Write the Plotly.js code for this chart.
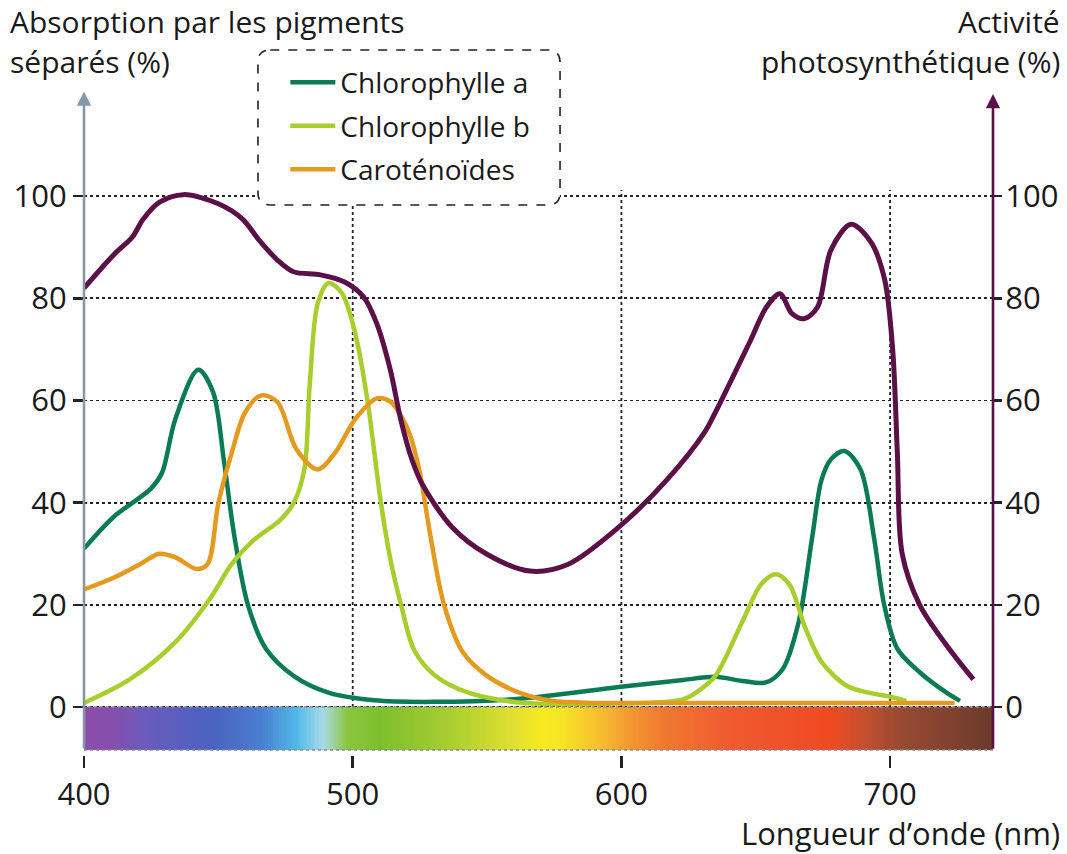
<!DOCTYPE html>
<html><head><meta charset="utf-8">
<script src="https://cdn.plot.ly/plotly-3.0.1.min.js"></script>
<style>html,body{margin:0;padding:0;background:#fff}</style>
</head><body><div id="chart" style="width:1067px;height:854px"></div>
<script>
// ---- Data ----
const actX = [400,411,418,422,428,437,450,459,465,472,478,488,497,504,509,514,518,522,526,537,550,566,580,599,617,631,635,648,654,659,663.5,668,673,678,685.5,693,698,701,702.7,704.5,711,721,731];
const actY = [82,88.5,92,95.5,98.8,100.3,98.5,95.5,91.5,87.5,85.2,84.6,83.2,80.3,75,66,56,48.5,43.5,35.2,29.9,26.6,27.9,35.2,44.5,53.8,57.7,71.7,78.3,80.9,77,76,78.3,89.5,94.5,90.9,83.6,69.7,49.8,30,20,12.1,5.4];

const chlaX = [400,411,425,429,434,442.5,448,452,456,461,467.7,478,491,508,530,562,599,623,635,645,653.7,660,666,671,674.5,678,683,689,694,697.8,702.7,711,721,726];
const chlaY = [31,37.2,42.8,45.8,56.4,66,61.7,48.5,33.3,20,11.4,6.1,2.8,1.3,1,1.6,3.9,5.3,5.9,5.1,4.8,7.4,16.7,33.2,44.5,48.5,50.1,46.5,33.2,20,11.4,6.8,2.8,1.2];

const chlbX = [400,417,434,447,455,463,473,478,482,484,487,491,496,501,505.5,510.5,514,518,523,531,543,562,600,623,629,635,645,652,657.5,662.5,668.5,674.5,684,692,700,706];
const chlbY = [0.8,5.4,12.7,21.3,28,32.6,36.6,39.9,46.5,63,79,83,81,73,60,40,29,20,11,6,2.8,0.9,0.7,1.5,3.3,6.1,16.7,24,26,24,15.4,8.8,4.1,2.8,2,1.2];

const carX = [400,411,421,428,434,442,446,450,455,460,466,472,479,487,493.5,501,509,514,518,521.5,525,529,534,541,550,562,574,590,620,660,700,724];
const carY = [23,25.3,28,30,29.3,27,28,39.9,49.8,57.7,61,59.7,50.5,46.5,49.8,56.4,60.4,59.8,57,53,45.8,33.3,20,10.7,6.1,2.8,1.2,0.8,0.8,0.8,0.8,0.8];

const yTicks = [0,20,40,60,80,100];
const xTicks = [400,500,600,700];

// visible spectrum band under the axis
const specNm = [400,411,423,448,466,479,489,498,510,535,560,570,578,591,603,615,640,678,690,703,727,738.3];
const specColor = ['#8e4ca8','#8350ae','#6a5cbc','#4a62c0','#4a7fd0','#50b8e8','#a8dae6','#8cc63f','#7cbf2e','#a8cc30','#e0e030','#f5ea20','#f6e424','#f5c030','#f29a30','#f07a30','#f05a30','#ef4a22','#c45030','#9a4a32','#7a4030','#6a3a2a'];

const seriesNames = ['Chlorophylle a','Chlorophylle b','Caroténoïdes'];
const seriesColors = ['#0b7b55','#a9cd2c','#e49a1e'];
const actColor = '#5c1048';

// ---- Build ----
const XMIN = 400, XMAX = 738.3, YMIN = -9.4, YMAX = 120, BAND = -8.4;
const bandX = [];
for (let v = XMIN; v <= XMAX + 0.5; v += 1) bandX.push(v);
const cs = specNm.map((n,i) => [(n - XMIN)/(XMAX - XMIN), specColor[i]]);
cs[cs.length-1][0] = 1;

const traces = [
  {type:'heatmap', x: bandX, y0: BAND/2, dy: -BAND, z: [bandX], zmin: XMIN, zmax: XMAX,
   colorscale: cs, showscale:false, hoverinfo:'skip', xaxis:'x', yaxis:'y'},
  {type:'scatter', mode:'lines', name: seriesNames[0], x: chlaX, y: chlaY, legendgroup:'a',
   line:{color: seriesColors[0], width:4.5, shape:'spline', smoothing:0.9}},
  {type:'scatter', mode:'lines', name: seriesNames[1], x: chlbX, y: chlbY, legendgroup:'b',
   line:{color: seriesColors[1], width:4.5, shape:'spline', smoothing:0.9}},
  {type:'scatter', mode:'lines', name: seriesNames[2], x: carX, y: carY, legendgroup:'c',
   line:{color: seriesColors[2], width:4.5, shape:'spline', smoothing:0.9}},
  {type:'scatter', mode:'lines', name:'Activité photosynthétique', x: actX, y: actY, yaxis:'y2',
   showlegend:false, line:{color: actColor, width:5, shape:'spline', smoothing:0.9}}
];

// legend box (rounded, dashed)
const bx0 = 0.1914, bx1 = 0.5237, byT = 1.0666, byB = 0.8321, rx = 0.0135, ry = 0.0185;
const boxPath = `M${bx0+rx},${byT} L${bx1-rx},${byT} Q${bx1},${byT} ${bx1},${byT-ry} L${bx1},${byB+ry} Q${bx1},${byB} ${bx1-rx},${byB} L${bx0+rx},${byB} Q${bx0},${byB} ${bx0},${byB+ry} L${bx0},${byT-ry} Q${bx0},${byT} ${bx0+rx},${byT} Z`;

const shapes = xTicks.filter(v => v > XMIN).map(v => ({
  type:'line', xref:'x', yref:'y', x0:v, x1:v, y0:0, y1:101.2, layer:'below',
  line:{color:'#222', width:1.8, dash:'dot'}
}));
shapes.push({type:'rect', xref:'x', yref:'y', x0:XMIN, x1:XMAX, y0:BAND, y1:0, layer:'above',
  line:{color:'#8a8a9a', width:1.5, dash:'dot'}});
shapes.push({type:'path', xref:'paper', yref:'paper', path: boxPath, layer:'above',
  fillcolor:'#ffffff', line:{color:'#222', width:1.6, dash:'dash'}});

const F = 'Open Sans, Noto Sans, sans-serif';
const tf = {family:F, size:30, color:'#1a1a1a'};
const kf = {family:F, size:31, color:'#1a1a1a'};

const annotations = [
  {xref:'paper', yref:'paper', x:-0.0836, y:1.109, xanchor:'left', yanchor:'middle', showarrow:false, text:'Absorption par les pigments', font:tf},
  {xref:'paper', yref:'paper', x:-0.0836, y:1.049, xanchor:'left', yanchor:'middle', showarrow:false, text:'séparés (%)', font:tf},
  {xref:'paper', yref:'paper', x:1.0759, y:1.109, xanchor:'right', yanchor:'middle', showarrow:false, text:'Activité', font:tf},
  {xref:'paper', yref:'paper', x:1.0759, y:1.049, xanchor:'right', yanchor:'middle', showarrow:false, text:'photosynthétique (%)', font:tf},
  {xref:'paper', yref:'paper', x:1.0759, y:-0.118, xanchor:'right', yanchor:'middle', showarrow:false, text:'Longueur d’onde (nm)', font:{family:F, size:31, color:'#1a1a1a'}},
  // axis lines with arrowheads
  {xref:'x', yref:'y', axref:'x', ayref:'y', x:XMIN, y:120.5, ax:XMIN, ay:BAND, text:'', showarrow:true,
   arrowhead:2, arrowsize:1.1, arrowwidth:2.6, arrowcolor:'#8797aa'},
  {xref:'x', yref:'y', axref:'x', ayref:'y', x:XMAX, y:120, ax:XMAX, ay:BAND, text:'', showarrow:true,
   arrowhead:2, arrowsize:1.1, arrowwidth:2.6, arrowcolor:actColor}
];

const layout = {
  width:1067, height:854,
  margin:{l:84, r:74, t:94, b:99, pad:0},
  paper_bgcolor:'#fff', plot_bgcolor:'#fff',
  font:{family:F, size:27, color:'#1a1a1a'},
  showlegend:true,
  legend:{x:0.2215, y:1.055, xanchor:'left', yanchor:'top', bgcolor:'rgba(0,0,0,0)', borderwidth:0,
    itemwidth:45, font:{family:F, size:28, color:'#1a1a1a'}, tracegroupgap:4},
  xaxis:{range:[XMIN, XMAX], tickmode:'array', tickvals:xTicks, showgrid:false, zeroline:false, showline:false,
    ticks:'outside', ticklen:12, tickwidth:2.5, tickcolor:'#222', tickfont:kf},
  yaxis:{range:[YMIN, YMAX], tickmode:'array', tickvals:yTicks, showgrid:true, gridcolor:'#222', gridwidth:1.8, griddash:'dot',
    zeroline:false, showline:false, ticks:'outside', ticklen:10, tickwidth:2.5, tickcolor:'#222',
    tickfont:kf},
  yaxis2:{range:[YMIN, YMAX], overlaying:'y', side:'right', tickmode:'array', tickvals:yTicks, showgrid:false,
    zeroline:false, showline:false, ticks:'outside', ticklen:8, tickwidth:2.5, tickcolor:'#222',
    ticklabelstandoff:-3, tickfont:kf},
  shapes: shapes,
  annotations: annotations
};

Plotly.newPlot('chart', traces, layout, {displayModeBar:false, staticPlot:true});
</script></body></html>
